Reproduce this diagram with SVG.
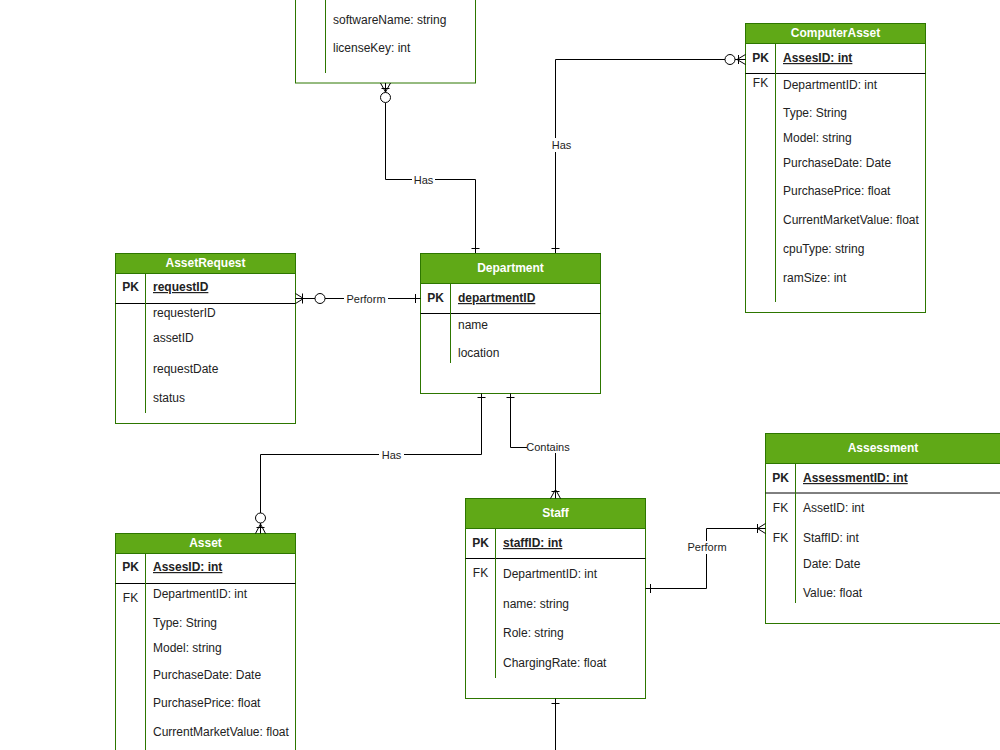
<svg xmlns="http://www.w3.org/2000/svg" width="1000" height="750" viewBox="0 0 1000 750">
<style>
.box{fill:#fff;stroke:#2D7600;stroke-width:1}
.hdr{fill:#60A917;stroke:#2D7600;stroke-width:1}
.ht{font-family:"Liberation Sans",Arial,sans-serif;font-size:12px;font-weight:bold;fill:#fff;text-anchor:middle}
.t{font-family:"Liberation Sans",Arial,sans-serif;font-size:12px;fill:#222}
.k{font-family:"Liberation Sans",Arial,sans-serif;font-size:12px;fill:#222;text-anchor:middle}
.kb{font-family:"Liberation Sans",Arial,sans-serif;font-size:12px;font-weight:bold;fill:#222;text-anchor:middle}
.pk{font-family:"Liberation Sans",Arial,sans-serif;font-size:12px;font-weight:bold;fill:#222;text-decoration:underline}
.sep{stroke:#000;stroke-width:1}
.vd{stroke:#2D7600;stroke-width:1}
.ln{fill:none;stroke:#000;stroke-width:1}
.circ{fill:#fff;stroke:#000;stroke-width:1}
.lbl{font-family:"Liberation Sans",Arial,sans-serif;font-size:11px;fill:#222;text-anchor:middle}
.lblbg{fill:#fff}
</style>
<rect width="1000" height="750" fill="#fff"/>

<g id="software">
<rect class="box" x="295.5" y="-40" width="180" height="123"/>
<line class="vd" x1="325.5" y1="-40" x2="325.5" y2="73"/>
<text class="t" x="333" y="24">softwareName: string</text>
<text class="t" x="333" y="52">licenseKey: int</text>
</g>

<g id="computerasset">
<rect class="box" x="745.5" y="23.5" width="180" height="289"/>
<rect class="hdr" x="745.5" y="23.5" width="180" height="20"/>
<text class="ht" x="835.5" y="36.5">ComputerAsset</text>
<line class="sep" x1="745.5" y1="73.5" x2="925.5" y2="73.5"/>
<line class="vd" x1="775.5" y1="43.5" x2="775.5" y2="302"/>
<text class="kb" x="760.5" y="62">PK</text>
<text class="pk" x="783" y="62">AssesID: int</text>
<text class="k" x="760.5" y="87">FK</text>
<text class="t" x="783" y="89">DepartmentID: int</text>
<text class="t" x="783" y="117">Type: String</text>
<text class="t" x="783" y="142">Model: string</text>
<text class="t" x="783" y="167">PurchaseDate: Date</text>
<text class="t" x="783" y="195">PurchasePrice: float</text>
<text class="t" x="783" y="224">CurrentMarketValue: float</text>
<text class="t" x="783" y="253">cpuType: string</text>
<text class="t" x="783" y="282">ramSize: int</text>
</g>

<g id="assetrequest">
<rect class="box" x="115.5" y="253.5" width="180" height="170"/>
<rect class="hdr" x="115.5" y="253.5" width="180" height="20"/>
<text class="ht" x="205.5" y="266.5">AssetRequest</text>
<line class="sep" x1="115.5" y1="303.5" x2="295.5" y2="303.5"/>
<line class="vd" x1="145.5" y1="273.5" x2="145.5" y2="413"/>
<text class="kb" x="130.5" y="291">PK</text>
<text class="pk" x="153" y="291">requestID</text>
<text class="t" x="153" y="317">requesterID</text>
<text class="t" x="153" y="342">assetID</text>
<text class="t" x="153" y="373">requestDate</text>
<text class="t" x="153" y="402">status</text>
</g>

<g id="department">
<rect class="box" x="420.5" y="253.5" width="180" height="140"/>
<rect class="hdr" x="420.5" y="253.5" width="180" height="30"/>
<text class="ht" x="510.5" y="271.5">Department</text>
<line class="sep" x1="420.5" y1="313.5" x2="600.5" y2="313.5"/>
<line class="vd" x1="450.5" y1="283.5" x2="450.5" y2="363"/>
<text class="kb" x="435.5" y="302">PK</text>
<text class="pk" x="458" y="302">departmentID</text>
<text class="t" x="458" y="329">name</text>
<text class="t" x="458" y="357">location</text>
</g>

<g id="asset">
<rect class="box" x="115.5" y="533.5" width="180" height="240"/>
<rect class="hdr" x="115.5" y="533.5" width="180" height="20"/>
<text class="ht" x="205.5" y="546.5">Asset</text>
<line class="sep" x1="115.5" y1="583.5" x2="295.5" y2="583.5"/>
<line class="vd" x1="145.5" y1="553.5" x2="145.5" y2="760"/>
<text class="kb" x="130.5" y="571">PK</text>
<text class="pk" x="153" y="571">AssesID: int</text>
<text class="k" x="130.5" y="602">FK</text>
<text class="t" x="153" y="598">DepartmentID: int</text>
<text class="t" x="153" y="627">Type: String</text>
<text class="t" x="153" y="652">Model: string</text>
<text class="t" x="153" y="679">PurchaseDate: Date</text>
<text class="t" x="153" y="707">PurchasePrice: float</text>
<text class="t" x="153" y="736">CurrentMarketValue: float</text>
</g>

<g id="staff">
<rect class="box" x="465.5" y="498.5" width="180" height="200"/>
<rect class="hdr" x="465.5" y="498.5" width="180" height="30"/>
<text class="ht" x="555.5" y="516.5">Staff</text>
<line class="sep" x1="465.5" y1="558.5" x2="645.5" y2="558.5"/>
<line class="vd" x1="495.5" y1="528.5" x2="495.5" y2="678"/>
<text class="kb" x="480.5" y="547">PK</text>
<text class="pk" x="503" y="547">staffID: int</text>
<text class="k" x="480.5" y="577">FK</text>
<text class="t" x="503" y="578">DepartmentID: int</text>
<text class="t" x="503" y="608">name: string</text>
<text class="t" x="503" y="637">Role: string</text>
<text class="t" x="503" y="667">ChargingRate: float</text>
</g>

<g id="assessment">
<rect class="box" x="765.5" y="433.5" width="240" height="190"/>
<rect class="hdr" x="765.5" y="433.5" width="240" height="30"/>
<text class="ht" x="883" y="451.5">Assessment</text>
<line class="sep" x1="765.5" y1="493" x2="1005" y2="493"/>
<line class="vd" x1="795.5" y1="463.5" x2="795.5" y2="603"/>
<text class="kb" x="780.5" y="482">PK</text>
<text class="pk" x="803" y="482">AssessmentID: int</text>
<text class="k" x="780.5" y="512">FK</text>
<text class="t" x="803" y="512">AssetID: int</text>
<text class="k" x="780.5" y="542">FK</text>
<text class="t" x="803" y="542">StaffID: int</text>
<text class="t" x="803" y="568">Date: Date</text>
<text class="t" x="803" y="597">Value: float</text>
</g>

<g id="connectors">
<!-- software - department -->
<path class="ln" d="M385.5,103 V179.5 H475.5 V253"/>
<path class="ln" d="M380.5,83 L385.5,92 L390.5,83 M385.5,83 V92.5 M381.5,88.5 H389.5"/>
<circle class="circ" cx="385.5" cy="97.5" r="5"/>
<path class="ln" d="M471.5,248.5 H479.5"/>
<rect class="lblbg" x="412" y="173" width="23" height="13"/>
<text class="lbl" x="423.5" y="183.5">Has</text>

<!-- department - computerasset -->
<path class="ln" d="M555.5,253 V59.5 H725"/>
<path class="ln" d="M745.5,54.5 L737,59.5 L745.5,64.5 M735,59.5 H745.5 M738.5,55 V64"/>
<circle class="circ" cx="730" cy="59.5" r="5"/>
<path class="ln" d="M551.5,248.5 H559.5"/>
<rect class="lblbg" x="549" y="138" width="25" height="14"/>
<text class="lbl" x="561.5" y="149">Has</text>

<!-- assetrequest - department -->
<path class="ln" d="M295.5,298.5 H315 M325,298.5 H420.5"/>
<path class="ln" d="M295.5,293.5 L303.5,298.5 L295.5,303.5 M302.5,293.5 V303.5"/>
<circle class="circ" cx="320" cy="298.5" r="5"/>
<path class="ln" d="M415.5,294 V303"/>
<rect class="lblbg" x="344" y="292" width="44" height="13"/>
<text class="lbl" x="366" y="302.5">Perform</text>

<!-- department - asset -->
<path class="ln" d="M481.5,393.5 V454.5 H260.5 V513"/>
<path class="ln" d="M477.5,397.5 H485.5"/>
<circle class="circ" cx="260.5" cy="518" r="5"/>
<path class="ln" d="M260.5,523 V533.5 M255.5,533.5 L260.5,524 L265.5,533.5 M256.5,527.5 H264.5"/>
<rect class="lblbg" x="379" y="448" width="25" height="13"/>
<text class="lbl" x="391.5" y="458.5">Has</text>

<!-- department - staff -->
<path class="ln" d="M510.5,393.5 V447.5 H527"/>
<path class="ln" d="M555.5,453 V498.5"/>
<path class="ln" d="M506.5,397.5 H514.5"/>
<path class="ln" d="M550.5,498.5 L555.5,489.5 L560.5,498.5 M551.5,491.5 H559.5"/>
<text class="lbl" x="548" y="451">Contains</text>

<!-- staff - assessment -->
<path class="ln" d="M645.5,588.5 H706.5 V528.5 H765.5"/>
<path class="ln" d="M650.5,584 V593"/>
<path class="ln" d="M765.5,523.5 L757.5,528.5 L765.5,533.5 M757.5,524 V533"/>
<rect class="lblbg" x="685" y="541" width="44" height="13"/>
<text class="lbl" x="707" y="551">Perform</text>

<!-- staff bottom -->
<path class="ln" d="M555.5,698.5 V750"/>
<path class="ln" d="M551.5,703.5 H559.5"/>
</g>
</svg>
